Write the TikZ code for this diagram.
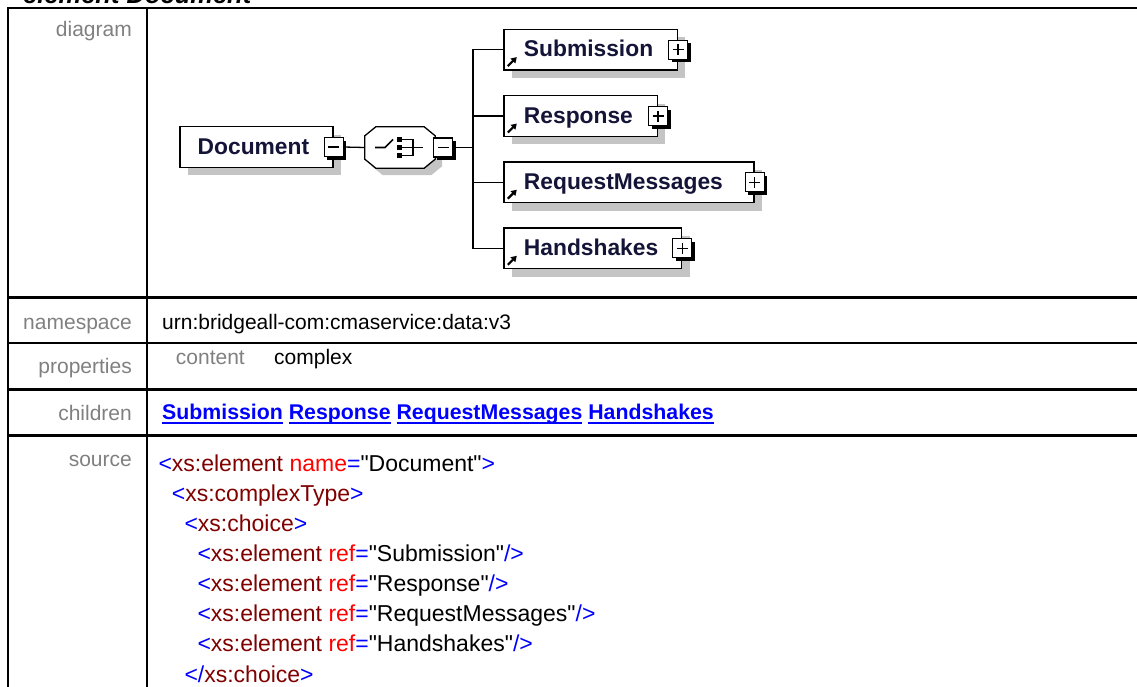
\documentclass[tikz,border=0pt]{standalone}
\usepackage{fontspec}
\setmainfont{Liberation Sans}[Ligatures=TeXOff]
\usepackage{xcolor}
\usetikzlibrary{positioning}
\usetikzlibrary{shadows}
\usetikzlibrary{arrows.meta}

\definecolor{labelgray}{RGB}{128,128,128}
\definecolor{boxshade}{RGB}{196,196,196}
\definecolor{elemink}{RGB}{20,20,56}
\definecolor{linkblue}{RGB}{0,0,255}
\definecolor{xmlmark}{RGB}{0,0,255}
\definecolor{xmltag}{RGB}{128,0,0}
\definecolor{xmlattr}{RGB}{255,0,0}

\newcommand{\labfont}{\fontsize{21}{25}\selectfont}
\newcommand{\linkfont}{\fontsize{21.3}{25}\selectfont\bfseries}
\newcommand{\elemfont}{\fontsize{22.8}{26}\selectfont\bfseries}
\newcommand{\srcfont}{\fontsize{23}{28}\selectfont}
\newcommand{\titlefont}{\fontsize{25.5}{30}\selectfont\bfseries\itshape}
\newcommand{\linkword}[1]{\setbox0\hbox{#1}\rlap{\rule[-5.2pt]{\wd0}{1.9pt}}\box0\relax}
\newcommand{\xopen}[1]{\textcolor{xmlmark}{<}\textcolor{xmltag}{#1}}
\newcommand{\xclose}[1]{\textcolor{xmlmark}{</}\textcolor{xmltag}{#1}\textcolor{xmlmark}{>}}
\newcommand{\xattr}[2]{\textcolor{xmlattr}{#1}\textcolor{xmlmark}{=}"#2"}
\newcommand{\xgt}{\textcolor{xmlmark}{>}}
\newcommand{\xend}{\textcolor{xmlmark}{/>}}
\newcommand{\octpath}[1]{([xshift=11pt]#1.north west) -- ([xshift=-11pt]#1.north east)
  -- ([yshift=-9pt]#1.north east) -- ([yshift=9pt]#1.south east)
  -- ([xshift=-11pt]#1.south east) -- ([xshift=11pt]#1.south west)
  -- ([yshift=9pt]#1.south west) -- ([yshift=-9pt]#1.north west) -- cycle}

\tikzset{
  tableline/.style={line width=2.2pt, black},
  rowlabel/.style={anchor=base east, inner sep=0pt, font=\labfont, text=labelgray},
  rowvalue/.style={anchor=base west, inner sep=0pt, font=\labfont, text=black},
  srcline/.style={anchor=base west, inner sep=0pt, font=\srcfont, text=black},
  elembox/.style={draw, line width=1.3pt, fill=white, font=\elemfont, text=elemink,
    inner xsep=0pt, inner ysep=0pt, minimum height=40.7pt,
    text height=16.4pt, text depth=2.2pt,
    drop shadow={shadow xshift=8pt, shadow yshift=-8pt, fill=boxshade, opacity=1}},
  pmbox/.style={draw, line width=1.2pt, fill=white, minimum size=19pt, inner sep=0pt,
    drop shadow={shadow xshift=3pt, shadow yshift=-3pt, fill=black, opacity=1}},
  pmline/.style={line width=1.4pt},
  conn/.style={line width=1.3pt},
  iconline/.style={line width=1.6pt},
  refarrow/.style={line width=2.2pt, -{Triangle[length=5.5pt,width=6.5pt]}}
}

\begin{document}
\begin{tikzpicture}[x=1pt, y=-1pt]
    \useasboundingbox (0,0) rectangle (1137,686);
    \clip (0,0) rectangle (1137,686);

    % Title (cut at the top edge)
    \node[anchor=base west, inner sep=0pt, font=\titlefont] (title) at (23,3.5) {element Document};

    % Table grid
    \draw[tableline] (1140,8) -- (8,8) -- (8,700);
    \draw[tableline] (147,8) -- (147,700);
    \draw[tableline] (8,297.5) -- (1140,297.5);
    \draw[tableline] (8,343.3) -- (1140,343.3);
    \draw[tableline] (8,389.5) -- (1140,389.5);
    \draw[tableline] (8,435.5) -- (1140,435.5);

    % Row labels
    \node[rowlabel] (labdiagram) at (132,36) {diagram};
    \node[rowlabel] (labns) at (132,329) {namespace};
    \node[rowlabel] (labprop) at (132,373) {properties};
    \node[rowlabel] (labchild) at (132,420) {children};
    \node[rowlabel] (labsrc) at (132,466.5) {source};

    % Row values
    \node[rowvalue] (nsval) at (162,329) {urn:bridgeall-com:cmaservice:data:v3};
    \node[rowvalue, text=labelgray] (content) at (175.7,364) {content};
    \node[rowvalue] (complex) at (274,364) {complex};
    \node[rowvalue, font=\linkfont, text=linkblue] (childlinks) at (162,419)
        {\linkword{Submission} \linkword{Response} \linkword{RequestMessages} \linkword{Handshakes}};

    % Source listing
    \node[srcline] (src1) at (158.3,471) {\xopen{xs:element} \xattr{name}{Document}\xgt};
    \node[srcline] (src2) at (171.7,501.2) {\xopen{xs:complexType}\xgt};
    \node[srcline] (src3) at (184.3,531.4) {\xopen{xs:choice}\xgt};
    \foreach \rf [count=\i from 0] in {Submission,Response,RequestMessages,Handshakes}
        \node[srcline] (ref\i) at (197.3,{561.6+30.1*\i}) {\xopen{xs:element} \xattr{ref}{\rf}\xend};
    \node[srcline] (src8) at (184.3,682) {\xclose{xs:choice}};

    % Diagram: root element
    \node[elembox] (doc) at (256.5,147) {\makebox[153pt][l]{\hspace{17.7pt}Document}};
    \node[pmbox] (docpm) at (doc.east) {};
    \draw[pmline] ([xshift=-5.5pt]docpm.center) -- ([xshift=5.5pt]docpm.center);

    % Choice compositor
    \node[minimum width=70pt, minimum height=41pt, inner sep=0pt] (choice) at (400,147.5) {};
    \fill[boxshade, transform canvas={xshift=7pt, yshift=-7pt}] \octpath{choice};
    \draw[line width=1.3pt, fill=white] \octpath{choice};
    \begin{scope}[shift={(choice.center)}]
        \draw[iconline] (-25,0) -- (-15,0) -- (-7,-8);
        \fill (-3.3,-10.5) rectangle (1.7,-5.5);
        \fill (-3.3,-2.5) rectangle (1.7,2.5);
        \fill (-3.3,5.5) rectangle (1.7,10.5);
        \draw[iconline] (1.7,-8) -- (13,-8) -- (13,8) -- (1.7,8);
        \draw[iconline] (1.7,0) -- (23,0);
    \end{scope}
    \node[pmbox] (chpm) at (443,147.5) {};
    \draw[pmline] ([xshift=-5.5pt]chpm.center) -- ([xshift=5.5pt]chpm.center);
    \draw[conn] (docpm.east) -- (choice.west);

    % Children
    \coordinate (bus) at (473,147.5);
    \draw[conn] (chpm.east) -- (bus);
    \foreach \nm/\yy/\ww/\txt in {sub/49.6/173.4/Submission, resp/116/153.4/Response,
                                  reqmsg/182.2/250/RequestMessages, hand/248.3/177.7/Handshakes} {
        \node[elembox, anchor=west] (\nm) at (503.3,\yy) {\makebox[\ww pt][l]{\hspace{20pt}\txt}};
        \node[pmbox] (\nm-pm) at (\nm.east) {};
        \draw[pmline] ([xshift=-5.5pt]\nm-pm.center) -- ([xshift=5.5pt]\nm-pm.center);
        \draw[pmline] ([yshift=-5.5pt]\nm-pm.center) -- ([yshift=5.5pt]\nm-pm.center);
        \draw[refarrow] ([xshift=4.5pt, yshift=4.5pt]\nm.south west) -- ++(9,-9);
        \draw[conn] (bus) |- (\nm.west);
    }
\end{tikzpicture}
\end{document}
